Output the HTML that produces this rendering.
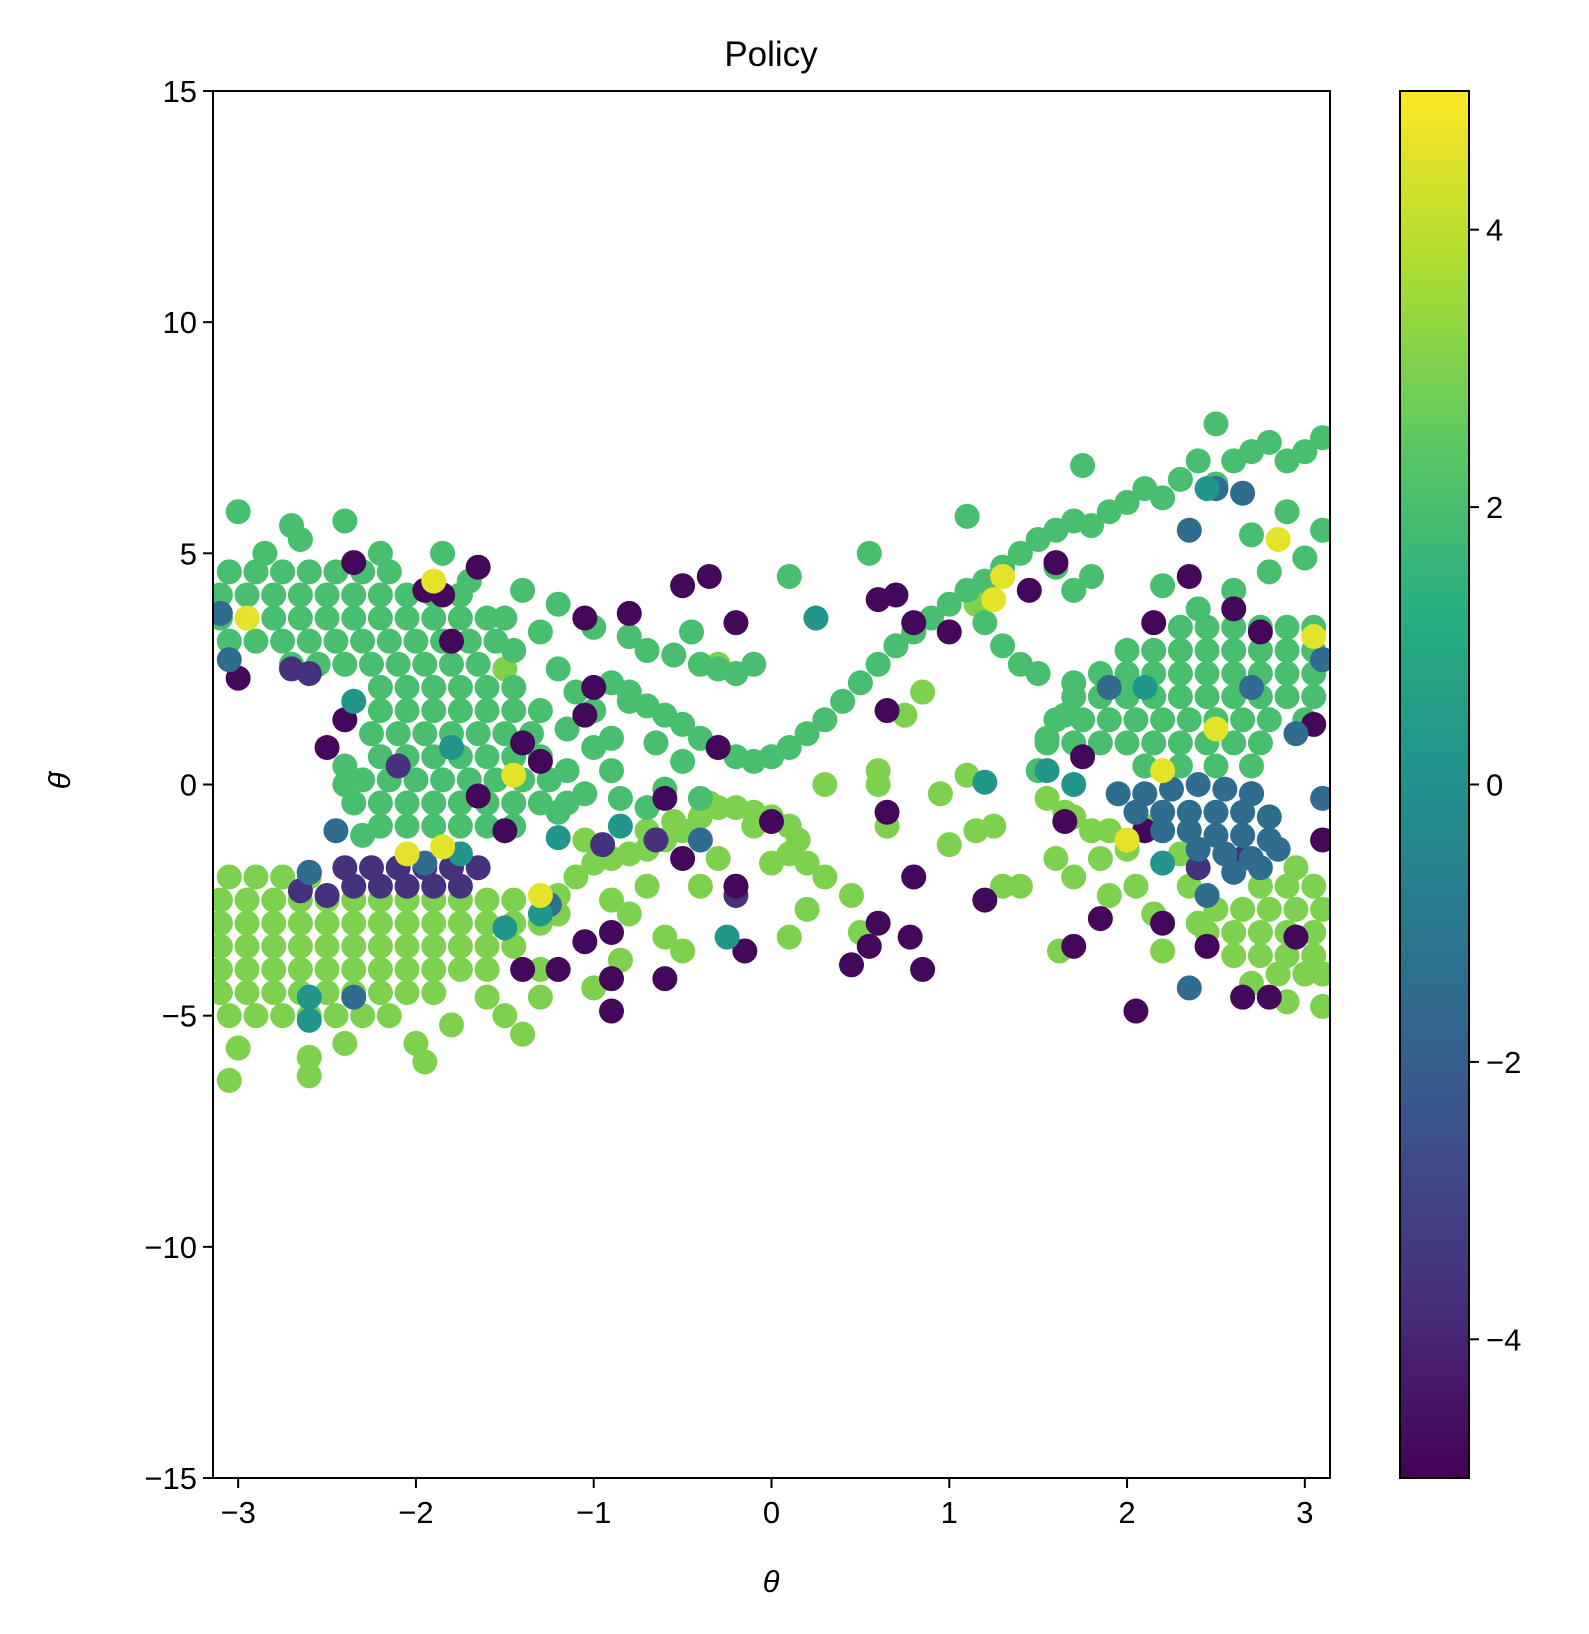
<!DOCTYPE html>
<html><head><meta charset="utf-8"><style>
html,body{margin:0;padding:0;background:#fff;}
svg{display:block;font-family:"Liberation Sans","DejaVu Sans",sans-serif;}
</style></head><body>
<svg id="chart" width="1589" height="1634" viewBox="0 0 1589 1634" xmlns="http://www.w3.org/2000/svg">
<defs>
<linearGradient id="viridis" x1="0" y1="1" x2="0" y2="0">
<stop offset="0" stop-color="#440154"/><stop offset="0.125" stop-color="#472d7b"/><stop offset="0.25" stop-color="#3b528b"/><stop offset="0.375" stop-color="#2c728e"/><stop offset="0.5" stop-color="#21918c"/><stop offset="0.625" stop-color="#28ae80"/><stop offset="0.75" stop-color="#5ec962"/><stop offset="0.875" stop-color="#addc30"/><stop offset="1" stop-color="#fde725"/>
</linearGradient>
<clipPath id="plotclip"><rect x="213" y="91" width="1117" height="1387"/></clipPath>
</defs>
<rect x="0" y="0" width="1589" height="1634" fill="#fff"/>
<text x="771" y="66" font-size="35" text-anchor="middle">Policy</text>
<g id="points" clip-path="url(#plotclip)"></g>
<rect x="213" y="91" width="1117" height="1387" fill="none" stroke="#000" stroke-width="2"/>
<g id="xticks"></g>
<g id="yticks"></g>
<text x="771" y="1592" font-size="31" font-style="italic" text-anchor="middle">θ</text>
<text x="0" y="0" font-size="31" font-style="italic" text-anchor="middle" transform="translate(70,781) rotate(-90)">θ̇</text>
<rect x="1400" y="91" width="69" height="1387" fill="url(#viridis)" stroke="#000" stroke-width="2"/>
<g id="cticks"></g>
</svg>
<script>
const xTicks = [-3, -2, -1, 0, 1, 2, 3];
const yTicks = [-15, -10, -5, 0, 5, 10, 15];
const cTicks = [-4, -2, 0, 2, 4];
const seriesActions = [3, 2, -3.6, -4.8, -1.5, 0.2, 4.6];
const limeTheta = [-3.05,-2.9,-2.75,-2.6,
-3.1,-2.95,-2.8,-2.65,-2.5,-2.35,-2.2,-2.05,-1.9,-1.75,-1.6,-1.45,
-3.1,-2.95,-2.8,-2.65,-2.5,-2.35,-2.2,-2.05,-1.9,-1.75,-1.6,-1.45,-1.3,
-3.1,-2.95,-2.8,-2.65,-2.5,-2.35,-2.2,-2.05,-1.9,-1.75,-1.6,-1.45,
-3.1,-2.95,-2.8,-2.65,-2.5,-2.35,-2.2,-2.05,-1.9,-1.75,-1.6,
-3.1,-2.95,-2.8,-2.65,-2.5,-2.35,-2.2,-2.05,-1.9,
-3.05,-2.9,-2.75,-2.6,-2.45,-2.3,-2.15,
-3.0,-3.05,-2.6,-2.6,-2.4,-2.0,-1.95,-1.8,-1.5,-1.4,-1.3,-1.6,
-1.2,-1.1,-1.0,-0.9,-0.8,-0.7,-0.6,-0.5,-0.4,-0.3,-0.2,-0.1,0.0,0.1,0.15,0.1,0.2,0.3,0.45,0.5,-0.35,-0.55,-0.7,-0.9,-0.8,-0.6,-0.5,-0.4,-0.3,-1.3,-1.0,-1.2,-0.85,0.0,0.1,0.2,-0.7,-1.05,-0.1,
0.6,0.6,0.65,0.75,0.85,0.95,1.0,1.1,1.15,1.25,1.3,1.4,1.15,1.3,
1.55,1.65,1.6,1.7,1.8,1.85,1.9,2.0,2.05,2.1,2.15,2.2,2.3,2.35,2.4,1.62,1.9,1.7,
2.75,2.9,3.05,2.5,2.65,2.8,2.95,3.1,2.45,2.6,2.75,2.9,3.05,2.6,2.75,2.9,3.05,2.85,3.0,3.1,
2.7,2.9,3.1,2.95,-1.5,-0.3,0.0,0.3];
const limeDot = [-2.0,-2.0,-2.0,-2.0,
-2.5,-2.5,-2.5,-2.5,-2.5,-2.5,-2.5,-2.5,-2.5,-2.5,-2.5,-2.5,
-3.0,-3.0,-3.0,-3.0,-3.0,-3.0,-3.0,-3.0,-3.0,-3.0,-3.0,-3.0,-3.0,
-3.5,-3.5,-3.5,-3.5,-3.5,-3.5,-3.5,-3.5,-3.5,-3.5,-3.5,-3.5,
-4.0,-4.0,-4.0,-4.0,-4.0,-4.0,-4.0,-4.0,-4.0,-4.0,-4.0,
-4.5,-4.5,-4.5,-4.5,-4.5,-4.5,-4.5,-4.5,-4.5,
-5.0,-5.0,-5.0,-5.0,-5.0,-5.0,-5.0,
-5.7,-6.4,-6.3,-5.9,-5.6,-5.6,-6.0,-5.2,-5.0,-5.4,-4.6,-4.6,
-2.4,-2.0,-1.7,-1.6,-1.5,-1.4,-1.2,-1.0,-0.7,-0.5,-0.5,-0.6,-0.7,-0.9,-1.2,-1.5,-1.7,-2.0,-2.4,-3.2,-0.4,-0.8,-1.0,-2.5,-2.8,-3.3,-3.6,-2.2,-1.6,-4.0,-4.4,-2.8,-3.8,-1.7,-3.3,-2.7,-2.2,-1.2,-0.9,
0.3,0.0,-0.9,1.5,2.0,-0.2,-1.3,0.2,-1.0,-0.9,-2.2,-2.2,3.9,4.5,
-0.3,-0.6,-1.6,-2.0,-1.0,-1.6,-2.4,-1.4,-2.2,-0.9,-2.8,-3.6,-1.5,-2.2,-3.0,-3.6,-1.0,-0.7,
-2.2,-2.2,-2.2,-2.7,-2.7,-2.7,-2.7,-2.7,-3.2,-3.2,-3.2,-3.2,-3.2,-3.7,-3.7,-3.7,-3.7,-4.1,-4.1,-4.1,
-4.3,-4.7,-4.8,-1.8,2.5,2.6,0.6,0.0];
const greenTheta = [-3.05,-2.9,-2.75,-2.6,-2.45,-2.3,-2.15,
-3.1,-2.95,-2.8,-2.65,-2.5,-2.35,-2.2,-2.05,-1.9,-1.75,
-3.1,-2.95,-2.8,-2.65,-2.5,-2.35,-2.2,-2.05,-1.9,-1.75,-1.6,
-3.05,-2.9,-2.75,-2.6,-2.45,-2.3,-2.15,-2.0,-1.85,-1.7,-1.55,
-2.7,-2.55,-2.4,-2.25,-2.1,-1.95,-1.8,-1.65,
-3.0,-2.7,-2.4,-2.65,-2.2,-1.85,-2.85,-1.7,-1.4,-1.2,-1.5,-1.3,-1.45,
-2.2,-2.05,-1.9,-1.75,-1.6,-1.45,
-2.2,-2.05,-1.9,-1.75,-1.6,-1.45,-1.3,
-2.25,-2.1,-1.95,-1.8,-1.65,-1.5,-1.35,
-2.2,-2.05,-1.9,-1.75,-1.6,-1.45,-1.3,
-2.3,-2.15,-2.0,-1.85,-1.7,-1.55,-1.4,-1.25,
-2.35,-2.2,-2.05,-1.9,-1.75,-1.6,-1.45,-1.3,-1.15,
-2.2,-2.05,-1.9,-1.75,-1.6,-1.45,
-2.4,-2.4,-2.3,
-1.2,-1.1,-1.0,-1.15,-1.0,-1.15,-1.05,-1.2,-0.9,-0.85,-0.9,-0.8,-0.7,
-1.0,-0.8,-0.7,-0.55,-0.4,-0.3,-0.2,-0.1,-0.45,0.1,
-0.9,-0.8,-0.7,-0.6,-0.5,-0.4,-0.3,-0.2,-0.1,0.0,0.1,0.2,0.3,0.4,0.5,0.6,0.7,0.8,0.9,1.0,1.1,1.2,1.3,1.4,1.5,1.6,1.7,1.8,1.9,2.0,2.1,2.2,2.3,2.4,2.5,2.6,2.7,2.8,2.9,3.0,3.1,2.5,1.75,1.1,0.55,-0.65,-0.5,-0.6,-0.4,
1.3,1.4,1.5,1.2,1.6,1.7,1.8,2.2,2.4,2.6,2.8,3.0,2.7,2.9,3.1,
2.3,2.45,2.6,2.75,2.9,3.05,
2.0,2.15,2.3,2.45,2.6,2.75,2.9,3.05,
1.85,2.0,2.15,2.3,2.45,2.6,2.75,2.9,3.05,
1.7,1.85,2.0,2.15,2.3,2.45,2.6,2.75,2.9,3.05,
1.6,1.75,1.9,2.05,2.2,2.35,2.5,2.65,2.8,3.0,
1.55,1.7,1.85,2.0,2.15,2.3,2.45,2.6,2.75,
2.1,2.3,2.5,2.7,
1.55,1.65,1.7,1.5];
const greenDot = [4.6,4.6,4.6,4.6,4.6,4.6,4.6,
4.1,4.1,4.1,4.1,4.1,4.1,4.1,4.1,4.1,4.1,
3.6,3.6,3.6,3.6,3.6,3.6,3.6,3.6,3.6,3.6,3.6,
3.1,3.1,3.1,3.1,3.1,3.1,3.1,3.1,3.1,3.1,3.1,
2.6,2.6,2.6,2.6,2.6,2.6,2.6,2.6,
5.9,5.6,5.7,5.3,5.0,5.0,5.0,4.4,4.2,3.9,3.6,3.3,2.9,
2.1,2.1,2.1,2.1,2.1,2.1,
1.6,1.6,1.6,1.6,1.6,1.6,1.6,
1.1,1.1,1.1,1.1,1.1,1.1,1.1,
0.6,0.6,0.6,0.6,0.6,0.6,0.6,
0.1,0.1,0.1,0.1,0.1,0.1,0.1,0.1,
-0.4,-0.4,-0.4,-0.4,-0.4,-0.4,-0.4,-0.4,-0.4,
-0.9,-0.9,-0.9,-0.9,-0.9,-0.9,
0.4,0.0,-1.1,
2.5,2.0,1.6,1.2,0.8,0.3,-0.2,-0.6,0.3,-0.3,1.0,1.8,-0.5,
3.4,3.2,2.9,2.8,2.6,2.5,2.4,2.6,3.3,4.5,
2.2,2.0,1.7,1.5,1.3,1.0,0.8,0.6,0.5,0.6,0.8,1.1,1.4,1.8,2.2,2.6,3.0,3.3,3.6,3.9,4.2,4.4,4.7,5.0,5.3,5.5,5.7,5.6,5.9,6.1,6.4,6.2,6.6,7.0,6.5,7.0,7.2,7.4,7.0,7.2,7.5,7.8,6.9,5.8,5.0,0.9,0.5,-0.1,-0.3,
3.0,2.6,2.4,3.5,4.7,4.2,4.5,4.3,3.8,4.2,4.6,4.9,5.4,5.9,5.5,
3.4,3.4,3.4,3.4,3.4,3.4,
2.9,2.9,2.9,2.9,2.9,2.9,2.9,2.9,
2.4,2.4,2.4,2.4,2.4,2.4,2.4,2.4,2.4,
1.9,1.9,1.9,1.9,1.9,1.9,1.9,1.9,1.9,1.9,
1.4,1.4,1.4,1.4,1.4,1.4,1.4,1.4,1.4,1.4,
0.9,0.9,0.9,0.9,0.9,0.9,0.9,0.9,0.9,
0.4,0.4,0.4,0.4,
1.0,1.5,2.2,0.3];
const indigoTheta = [-2.4,-2.25,-2.1,-1.95,-1.8,-1.65,-2.35,-2.2,-2.05,-1.9,-1.75,-2.6,-2.5,-2.65,-2.6,-2.7,-2.1,-0.95,-0.65,-0.2,2.65,2.4];
const indigoDot = [-1.8,-1.8,-1.8,-1.8,-1.8,-1.8,-2.2,-2.2,-2.2,-2.2,-2.2,-1.9,-2.4,-2.3,2.4,2.5,0.4,-1.3,-1.2,-2.4,-1.6,-1.8];
const purpleTheta = [-3.0,-2.5,-2.35,-1.95,-1.85,-1.65,-1.65,-1.8,-1.05,-1.0,-1.05,-0.8,-0.2,-0.5,-0.35,-0.3,-0.6,-0.5,-0.6,-0.9,-0.9,-0.9,-1.05,-1.2,-1.4,-0.15,-0.2,0.0,0.45,0.55,0.6,0.65,0.65,0.7,0.8,0.8,0.85,0.78,0.6,1.0,1.2,1.45,1.6,1.65,1.7,1.75,1.85,2.05,2.1,2.2,2.15,2.35,2.45,2.6,2.65,2.7,2.8,2.75,2.95,3.05,3.1,-1.5,-1.4,-2.4,-1.3];
const purpleDot = [2.3,0.8,4.8,4.2,4.1,4.7,-0.25,3.1,3.6,2.1,1.5,3.7,3.5,4.3,4.5,0.8,-0.3,-1.6,-4.2,-4.2,-4.9,-3.2,-3.4,-4.0,-4.0,-3.6,-2.2,-0.8,-3.9,-3.5,-3.0,-0.6,1.6,4.1,3.5,-2.0,-4.0,-3.3,4.0,3.3,-2.5,4.2,4.8,-0.8,-3.5,0.6,-2.9,-4.9,-1.0,-3.0,3.5,4.5,-3.5,3.8,-4.6,-0.2,-4.6,3.3,-3.3,1.3,-1.2,-1.0,0.9,1.4,0.5];
const blueTheta = [1.95,2.1,2.25,2.4,2.55,2.7,2.05,2.2,2.35,2.5,2.65,2.8,2.2,2.35,2.5,2.65,2.8,2.4,2.55,2.7,2.85,2.6,2.75,2.45,2.35,2.35,2.5,2.65,2.7,2.95,3.1,3.1,-3.1,-3.05,-2.45,-2.6,-2.35,-1.95,-1.25,-0.4,1.9];
const blueDot = [-0.2,-0.2,-0.1,0.0,-0.1,-0.2,-0.6,-0.6,-0.6,-0.6,-0.6,-0.7,-1.0,-1.0,-1.1,-1.1,-1.2,-1.4,-1.5,-1.6,-1.4,-1.9,-1.8,-2.4,-4.4,5.5,6.4,6.3,2.1,1.1,-0.3,2.7,3.7,2.7,-1.0,-1.9,-4.6,-1.7,-2.6,-1.2,2.1];
const tealTheta = [-2.35,-2.6,-2.6,-1.8,-0.85,-0.25,-1.5,0.25,1.2,1.55,1.7,2.1,2.45,-1.2,-1.3,2.2,-1.75];
const tealDot = [1.8,-4.6,-5.1,0.8,-0.9,-3.3,-3.1,3.6,0.05,0.3,0.0,2.1,6.4,-1.15,-2.8,-1.7,-1.5];
const yellowTheta = [-1.9,-2.95,-1.45,-1.85,-2.05,-1.3,2.85,3.05,2.5,1.3,1.25,2.2,2.0];
const yellowDot = [4.4,3.6,0.2,-1.35,-1.5,-2.4,5.3,3.2,1.2,4.5,4.0,0.3,-1.2];

const seriesTheta = [limeTheta, greenTheta, indigoTheta, purpleTheta, blueTheta, tealTheta, yellowTheta];
const seriesDot = [limeDot, greenDot, indigoDot, purpleDot, blueDot, tealDot, yellowDot];
const seriesNames = ['lime', 'green', 'indigo', 'purple', 'blue', 'teal', 'yellow'];

const NS = 'http://www.w3.org/2000/svg';
const L = 213, R = 1330, T = 91, B = 1478;
const xScale = v => L + (v + Math.PI) / (2 * Math.PI) * (R - L);
const yScale = v => B - (v + 15) / 30 * (B - T);
const cScale = v => B - (v + 5) / 10 * (B - T);
const stops = [[68,1,84],[71,45,123],[59,82,139],[44,114,142],[33,145,140],[40,174,128],[94,201,98],[173,220,48],[253,231,37]];
function viridis(a) {
  let t = Math.max(0, Math.min(1, (a + 5) / 10)) * (stops.length - 1);
  const i = Math.min(stops.length - 2, Math.floor(t)); const f = t - i;
  const c = stops[i].map((s, k) => Math.round(s + (stops[i + 1][k] - s) * f));
  return 'rgb(' + c.join(',') + ')';
}
function fmt(v) { return v < 0 ? '\u2212' + Math.abs(v) : String(v); }

const pg = document.getElementById('points');
seriesTheta.forEach((xs, s) => {
  const col = viridis(seriesActions[s]);
  xs.forEach((x, i) => {
    const c = document.createElementNS(NS, 'circle');
    c.setAttribute('cx', xScale(x));
    c.setAttribute('cy', yScale(seriesDot[s][i]));
    c.setAttribute('r', 12.5);
    c.setAttribute('fill', col);
    
    
    pg.appendChild(c);
  });
});

const xg = document.getElementById('xticks');
xTicks.forEach(v => {
  const x = xScale(v);
  const l = document.createElementNS(NS, 'line');
  l.setAttribute('x1', x); l.setAttribute('x2', x); l.setAttribute('y1', B); l.setAttribute('y2', B + 10);
  l.setAttribute('stroke', '#000'); l.setAttribute('stroke-width', 2);
  
  
  xg.appendChild(l);
  const t = document.createElementNS(NS, 'text');
  t.setAttribute('x', x); t.setAttribute('y', B + 45); t.setAttribute('font-size', 31); t.setAttribute('text-anchor', 'middle');
  t.textContent = fmt(v);
  
  
  xg.appendChild(t);
});
const yg = document.getElementById('yticks');
yTicks.forEach(v => {
  const y = yScale(v);
  const l = document.createElementNS(NS, 'line');
  l.setAttribute('x1', L - 10); l.setAttribute('x2', L); l.setAttribute('y1', y); l.setAttribute('y2', y);
  l.setAttribute('stroke', '#000'); l.setAttribute('stroke-width', 2);
  
  
  yg.appendChild(l);
  const t = document.createElementNS(NS, 'text');
  t.setAttribute('x', L - 16); t.setAttribute('y', y + 11); t.setAttribute('font-size', 31); t.setAttribute('text-anchor', 'end');
  t.textContent = fmt(v);
  
  
  yg.appendChild(t);
});
const cg = document.getElementById('cticks');
cTicks.forEach(v => {
  const y = cScale(v);
  const l = document.createElementNS(NS, 'line');
  l.setAttribute('x1', 1469); l.setAttribute('x2', 1479); l.setAttribute('y1', y); l.setAttribute('y2', y);
  l.setAttribute('stroke', '#000'); l.setAttribute('stroke-width', 2);
  
  
  cg.appendChild(l);
  const t = document.createElementNS(NS, 'text');
  t.setAttribute('x', 1486); t.setAttribute('y', y + 11); t.setAttribute('font-size', 31);
  t.textContent = fmt(v);
  
  
  cg.appendChild(t);
});
</script>
</body></html>
